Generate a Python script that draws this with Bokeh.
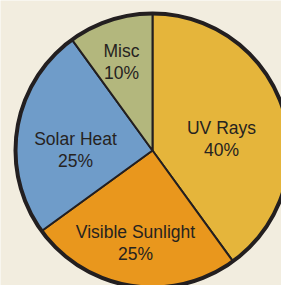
import numpy as np
from bokeh.plotting import figure
from bokeh.models import Range1d, ColumnDataSource
from bokeh.core.properties import value
from bokeh.embed import file_html
from bokeh.resources import INLINE

# ---- data ----
categories = ["UV Rays", "Visible Sunlight", "Solar Heat", "Misc"]
shares = [40, 25, 25, 10]
colors = ["#e5b53b", "#e9971d", "#6f9cc9", "#b3b77d"]

# ---- layout ----
W, H = 281, 285
BG = "#f2eddf"
INK = "#231f20"
cx, cy = 152, H - 150
R = 137
# label offsets (line-1 baseline relative to pie centre, px, y up)
label_dx = [69, -17, -77, -31]
label_dy = [23, -81, 12, 100]
line_gap = 22

total = float(sum(shares))
cum = np.cumsum([0] + shares)
start_cw = np.deg2rad(90 - 360 * cum[:-1] / total)
end_cw = np.deg2rad(90 - 360 * cum[1:] / total)

src = ColumnDataSource(dict(
    start=end_cw, end=start_cw, color=colors,
))

p = figure(width=W, height=H, output_backend="svg", toolbar_location=None,
           x_range=Range1d(0, W), y_range=Range1d(0, H),
           min_border=0, outline_line_color=None,
           background_fill_color=BG, border_fill_color=BG)
p.axis.visible = False
p.grid.visible = False

p.wedge(x=cx, y=cy, radius=R, start_angle="start", end_angle="end",
        direction="anticlock", fill_color="color", line_color=INK,
        line_width=2, source=src)
p.circle(x=cx, y=cy, radius=R, fill_color=None, line_color=INK, line_width=4)

lx = [cx + d for d in label_dx]
ly = [cy + d for d in label_dy]
ly2 = [y - line_gap for y in ly]
pct = [f"{v}%" for v in shares]

p.text(x=lx, y=ly, text=categories, text_align="center", text_baseline="alphabetic",
       text_font=value("Liberation Sans"), text_font_size="17.5px", text_color="#26231f")
p.text(x=lx, y=ly2, text=pct, text_align="center", text_baseline="alphabetic",
       text_font=value("Liberation Sans"), text_font_size="17.5px", text_color="#26231f")

html = file_html(p, INLINE)
html = html.replace("<body>", '<body style="margin:0;background:%s">' % BG, 1)
open("out.html", "w").write(html)
